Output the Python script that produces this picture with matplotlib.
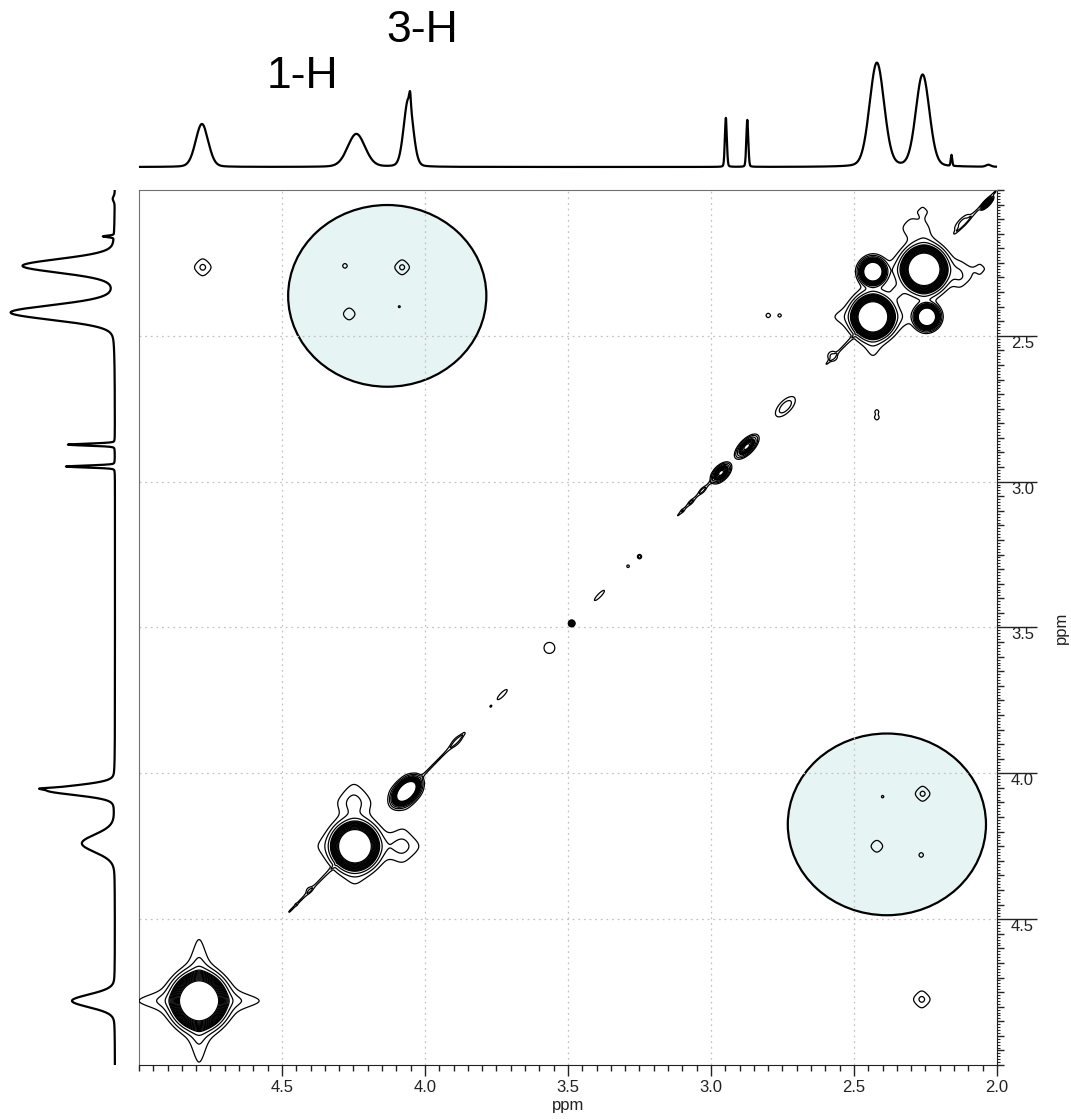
import numpy as np
import matplotlib
matplotlib.use("Agg")
import matplotlib.pyplot as plt
from matplotlib.patches import Ellipse
from matplotlib.ticker import MultipleLocator

plt.rcParams['font.family'] = ['Liberation Sans', 'DejaVu Sans']

# ---------------- 1D projection peaks (ppm, height in px-units, half width) -------------
peak_ppm = [4.78, 4.24, 4.058, 4.052, 2.948, 2.873, 2.42, 2.26, 2.159, 2.03]
peak_height = [43, 33, 68, 12, 49, 47, 104, 92, 11, 2]
peak_hwhm = [0.026, 0.036, 0.019, 0.003, 0.004, 0.004, 0.030, 0.028, 0.003, 0.01]

# ---------------- 2D: rotated Gaussian cores / diagonal features ------------------------
# (x ppm, y ppm, amplitude, sigma along diagonal, sigma across diagonal)
dg_x = [4.79, 4.245, 4.065, 2.434, 2.255, 2.434, 2.245,
        2.035, 2.12, 2.575, 2.74, 2.875, 2.965, 3.03, 3.07, 3.10, 3.25, 3.29,
        3.39, 3.487, 3.565, 3.73, 3.77, 3.81, 3.89, 4.405, 4.45]
dg_y = [4.78, 4.25, 4.062, 2.435, 2.272, 2.28, 2.435,
        2.045, 2.11, 2.57, 2.743, 2.88, 2.97, 3.03, 3.07, 3.10, 3.257, 3.29,
        3.39, 3.486, 3.57, 3.73, 3.77, 3.81, 3.89, 4.40, 4.45]
dg_amp = [300, 300, 300, 300, 300, 300, 300,
          40, 2.5, 2.5, 3.0, 25, 30, 1.8, 1.4, 1.2, 3.0, 1.5,
          1.6, 15, 1.3, 1.8, 1.2, 1.1, 2.2, 1.5, 1.1]
dg_su = [0.035, 0.030, 0.022, 0.027, 0.029, 0.017, 0.016,
         0.012, 0.025, 0.012, 0.03, 0.022, 0.018, 0.012, 0.01, 0.006, 0.005, 0.005,
         0.025, 0.005, 0.026, 0.022, 0.006, 0.003, 0.022, 0.012, 0.003]
dg_sv = [0.035, 0.030, 0.013, 0.027, 0.029, 0.017, 0.016,
         0.004, 0.009, 0.012, 0.014, 0.01, 0.01, 0.006, 0.005, 0.004, 0.005, 0.005,
         0.006, 0.005, 0.026, 0.006, 0.004, 0.003, 0.008, 0.008, 0.003]

# ---------------- 2D: product-Lorentzian skirts and cross peaks -------------------------
# (x ppm, y ppm, amplitude, half width)
lor_x = [4.79, 4.245, 4.065, 2.434, 2.255, 2.30, 2.13, 2.35, 4.25, 4.08,
         4.28, 4.08, 4.265, 4.09, 2.40, 2.26, 2.42, 2.265,
         4.777, 2.263, 2.80, 2.76, 2.42, 2.42, 2.26, 2.06]
lor_y = [4.78, 4.25, 4.062, 2.435, 2.272, 2.13, 2.30, 2.35, 4.10, 4.25,
         2.26, 2.265, 2.425, 2.40, 4.08, 4.07, 4.25, 4.28,
         2.265, 4.775, 2.43, 2.43, 2.78, 2.76, 2.075, 2.27]
lor_amp = [50, 7, 2.5, 15, 15, 1.5, 1.5, 1.8, 2.0, 2.0,
           1.35, 2.3, 1.8, 1.12, 1.2, 2.3, 1.8, 1.35,
           2.3, 2.3, 1.3, 1.15, 1.3, 1.15, 1.4, 1.4]
lor_w = [0.03, 0.05, 0.03, 0.035, 0.035, 0.03, 0.03, 0.03, 0.04, 0.04,
         0.012, 0.022, 0.022, 0.008, 0.008, 0.022, 0.022, 0.012,
         0.025, 0.025, 0.01, 0.008, 0.01, 0.008, 0.012, 0.012]

# ---------------- thin diagonal ridge segments (start ppm, end ppm, amplitude) -----------
rg_start = [2.0, 2.45, 2.98, 3.86, 4.3]
rg_end = [2.15, 2.6, 3.12, 4.02, 4.48]
rg_amp = [1.3, 1.3, 1.3, 1.3, 1.3]

# ---------------- highlight circles (centre x, centre y, width, height in ppm) -----------
hl_x = [4.132, 2.385]
hl_y = [2.363, 4.175]
hl_w = [0.693, 0.693]
hl_h = [0.623, 0.623]

levels_low = [1.0, 2.0, 4.0]
level_high_start = 7.0
level_high_factor = 1.2
n_high = 12

x_ticks = [4.5, 4.0, 3.5, 3.0, 2.5, 2.0]
y_ticks = [2.5, 3.0, 3.5, 4.0, 4.5]
labels_text = ["1-H", "3-H"]


def pvoigt(x, c, w, eta=0.15):
    gg = np.exp(-np.log(2) * ((x - c) / w) ** 2)
    ll = 1.0 / (1.0 + ((x - c) / w) ** 2)
    return (1 - eta) * gg + eta * ll


ppm1 = np.linspace(2.0, 5.0, 4001)
spec1 = np.zeros_like(ppm1)
for c, h, w in zip(peak_ppm, peak_height, peak_hwhm):
    spec1 += h * pvoigt(ppm1, c, w)

g = np.arange(2.0, 5.0001, 0.003)
X, Y = np.meshgrid(g, g)
Z = np.zeros_like(X)
for cx, cy, a, w in zip(lor_x, lor_y, lor_amp, lor_w):
    Z += a / (1 + ((X - cx) / w) ** 2) / (1 + ((Y - cy) / w) ** 2)
for cx, cy, a, su, sv in zip(dg_x, dg_y, dg_amp, dg_su, dg_sv):
    u = ((X - cx) + (Y - cy)) / np.sqrt(2)
    v = ((X - cx) - (Y - cy)) / np.sqrt(2)
    Z += a * np.exp(-u ** 2 / (2 * su ** 2) - v ** 2 / (2 * sv ** 2))
U = (X + Y) / 2
V = (X - Y) / np.sqrt(2)
for s0, s1, a in zip(rg_start, rg_end, rg_amp):
    win = 0.5 * (np.tanh((U - s0) / 0.005) - np.tanh((U - s1) / 0.005))
    Z += a * np.exp(-V ** 2 / (2 * 0.003 ** 2)) * win

levels = list(levels_low) + list(level_high_start * level_high_factor ** np.arange(n_high))

W, H = 1071, 1119
fig = plt.figure(figsize=(W / 100, H / 100), dpi=100)

fx = lambda px: px / W
fy = lambda py: 1 - py / H

m_left, m_right, m_top, m_bot = 139, 997, 190, 1065
ax = fig.add_axes([fx(m_left), fy(m_bot), fx(m_right - m_left), (m_bot - m_top) / H])
ax.set_xlim(5.0, 2.0)
ax.set_ylim(5.0, 2.0)

for cx, cy, w, h in zip(hl_x, hl_y, hl_w, hl_h):
    ax.add_patch(Ellipse((cx, cy), w, h, facecolor='#e7f4f4', edgecolor='black',
                         linewidth=1.6, zorder=1))

ax.contour(g, g, Z, levels=levels, colors='black', linewidths=0.9, zorder=3)

ax.set_xticks(x_ticks)
ax.set_yticks(y_ticks)
ax.xaxis.set_minor_locator(MultipleLocator(0.05))
ax.yaxis.set_minor_locator(MultipleLocator(0.05))
ax.grid(which='major', linestyle=(0, (1.5, 3)), color='#c4c4c4', linewidth=0.9, zorder=1.5)
ax.yaxis.tick_right()
ax.yaxis.set_label_position('right')
ax.tick_params(axis='x', which='major', direction='out', length=8, width=1,
               labelsize=12, pad=3, colors='#222222')
ax.tick_params(axis='x', which='minor', direction='out', length=4, width=1, colors='#222222')
ax.tick_params(axis='y', which='major', direction='out', length=29, width=1,
               labelsize=12, pad=-19, colors='#222222')
ax.tick_params(axis='y', which='minor', direction='out', length=5, width=1, colors='#222222')
ax.set_xticklabels([f"{t:.1f}" for t in x_ticks])
ax.set_yticklabels([f"{t:.1f}" for t in y_ticks])
for lab in ax.get_yticklabels():
    lab.set_va('top')
ax.set_xlabel('ppm', fontsize=12, labelpad=2, color='#222222')
ax.set_ylabel('ppm', fontsize=12, labelpad=12, color='#222222')
for side in ['top', 'left']:
    ax.spines[side].set_color('#707070')
for side in ['bottom', 'right']:
    ax.spines[side].set_color('#222222')

sec = ax.secondary_yaxis('right')
sec.yaxis.set_major_locator(MultipleLocator(0.01))
sec.tick_params(length=2.5, width=0.8, labelright=False, colors='#222222')
sec.spines['right'].set_visible(False)

# top projection
axt = fig.add_axes([fx(m_left), fy(180), fx(m_right - m_left), 160 / H])
axt.plot(ppm1, spec1, color='black', linewidth=1.6)
axt.set_xlim(5.0, 2.0)
axt.set_ylim(-13, 147)
axt.axis('off')

# left projection
axl = fig.add_axes([0, fy(m_bot), fx(130), (m_bot - m_top) / H])
axl.plot(spec1, ppm1, color='black', linewidth=1.6)
axl.set_xlim(115, -15)
axl.set_ylim(5.0, 2.0)
axl.axis('off')

fig.text(fx(302), fy(77), labels_text[0], fontsize=32, ha='center', va='center')
fig.text(fx(422), fy(30), labels_text[1], fontsize=32, ha='center', va='center')

fig.savefig('out.png', dpi=100)
